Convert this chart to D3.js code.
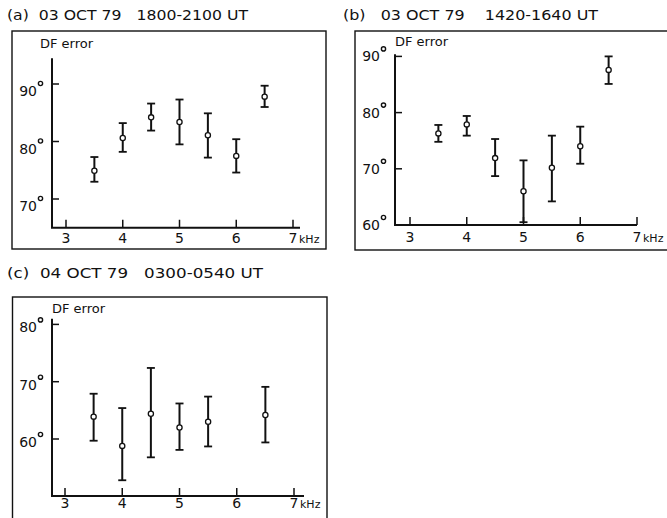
<!DOCTYPE html>
<html>
<head>
<meta charset="utf-8">
<script src="https://cdn.jsdelivr.net/npm/d3@7"></script>
<style>
body { margin: 0; background: #fff; }
svg { display: block; font-family: "DejaVu Sans", sans-serif; }
</style>
</head>
<body>
<div id="field"></div>
<script>
var width = 667
var height = 518

// frequencies (kHz)
var freqA = [3.5, 4, 4.5, 5, 5.5, 6, 6.5]
var meanA = [74.9, 80.6, 84.2, 83.4, 81.1, 77.5, 87.8]
var lowA  = [73.0, 78.2, 81.9, 79.5, 77.2, 74.6, 86.0]
var highA = [77.3, 83.2, 86.6, 87.3, 84.9, 80.4, 89.7]

var freqB = [3.5, 4, 4.5, 5, 5.5, 6, 6.5]
var meanB = [76.3, 77.9, 71.9, 66.0, 70.2, 74.0, 87.6]
var lowB  = [74.8, 75.9, 68.7, 60.5, 64.2, 70.9, 85.1]
var highB = [77.8, 79.4, 75.3, 71.5, 75.9, 77.5, 90.0]

var freqC = [3.5, 4, 4.5, 5, 5.5, 6.5]
var meanC = [63.9, 58.8, 64.4, 62.0, 63.0, 64.2]
var lowC  = [59.7, 52.8, 56.8, 58.1, 58.7, 59.4]
var highC = [67.9, 65.4, 72.4, 66.2, 67.4, 69.1]

var xTicks = [3, 4, 5, 6, 7]
var yTicksA = [70, 80, 90]
var yTicksB = [60, 70, 80, 90]
var yTicksC = [60, 70, 80]

var titles = [
  "(a)  03 OCT 79   1800-2100 UT",
  "(b)   03 OCT 79    1420-1640 UT",
  "(c)  04 OCT 79   0300-0540 UT"
]

function pts(f, m, lo, hi){
  return f.map(function(d, i){ return {f: d, m: m[i], lo: lo[i], hi: hi[i]} })
}

var panels = [
  {title: titles[0], tx: 7, ty: 20, tw: 241,
   frame: [12, 31, 326, 249],
   x: d3.scaleLinear().domain([3, 7]).range([66, 293]),
   y: d3.scaleLinear().domain([70, 90]).range([199, 84]),
   yDom: [65, 94.5], xAxisEnd: 300, axisX: 52,
   yTicks: yTicksA, labDy: 12, lab: [40, 48], xlabY: 243,
   data: pts(freqA, meanA, lowA, highA)},
  {title: titles[1], tx: 343, ty: 20, tw: 255,
   frame: [355, 31, 669, 250],
   x: d3.scaleLinear().domain([3, 7]).range([410, 637]),
   y: d3.scaleLinear().domain([60, 80]).range([225, 112.6]),
   yDom: [60, 90.4], xAxisEnd: 637, axisX: 395,
   yTicks: yTicksB, labDy: 5, lab: [395, 46], xlabY: 242,
   data: pts(freqB, meanB, lowB, highB)},
  {title: titles[2], tx: 7, ty: 278, tw: 256,
   frame: [12.5, 297, 327, 522],
   x: d3.scaleLinear().domain([3, 7]).range([65, 294]),
   y: d3.scaleLinear().domain([60, 70]).range([439, 381.7]),
   yDom: [50.05, 81], xAxisEnd: 304, axisX: 52,
   yTicks: yTicksC, labDy: 8, lab: [52, 313], xlabY: 508,
   data: pts(freqC, meanC, lowC, highC)}
]

var svg = d3.select("div#field").append("svg")
  .attr("width", width)
  .attr("height", height)

panels.forEach(function(p){
  var g = svg.append("g")
  var fr = p.frame
  g.append("rect")
    .attr("x", fr[0]).attr("y", fr[1])
    .attr("width", fr[2] - fr[0]).attr("height", fr[3] - fr[1])
    .attr("fill", "none").attr("stroke", "#111").attr("stroke-width", 1.4)

  g.append("text")
    .attr("x", p.tx).attr("y", p.ty)
    .attr("font-size", 13.5)
    .attr("textLength", p.tw).attr("lengthAdjust", "spacingAndGlyphs")
    .attr("fill", "#111")
    .style("white-space", "pre")
    .text(p.title)

  var y0 = p.y(p.yDom[0])
  var y1 = p.y(p.yDom[1])
  // axes
  g.append("path")
    .attr("d", d3.line()([[p.axisX, y1], [p.axisX, y0], [p.xAxisEnd, y0]]))
    .attr("fill", "none").attr("stroke", "#111").attr("stroke-width", 2)

  // x ticks (pointing up)
  g.selectAll("line.xt").data(xTicks).enter().append("line")
    .attr("x1", p.x).attr("x2", p.x)
    .attr("y1", y0).attr("y2", y0 - 8)
    .attr("stroke", "#111").attr("stroke-width", 1.5)
  g.selectAll("text.xl").data(xTicks).enter().append("text")
    .attr("x", p.x).attr("y", p.xlabY)
    .attr("text-anchor", "middle")
    .attr("font-size", 14).attr("fill", "#111")
    .text(function(d){ return d })
  g.append("text")
    .attr("x", p.x(7) + 6).attr("y", p.xlabY)
    .attr("font-size", 11).attr("fill", "#111")
    .text("kHz")

  // y ticks
  g.selectAll("line.yt").data(p.yTicks).enter().append("line")
    .attr("x1", p.axisX).attr("x2", p.axisX + 7)
    .attr("y1", p.y).attr("y2", p.y)
    .attr("stroke", "#111").attr("stroke-width", 1.5)
  g.selectAll("text.yl").data(p.yTicks).enter().append("text")
    .attr("x", p.axisX - 15).attr("y", function(d){ return p.y(d) + p.labDy })
    .attr("text-anchor", "end")
    .attr("font-size", 14).attr("fill", "#111")
    .text(function(d){ return d })
  g.selectAll("circle.deg").data(p.yTicks).enter().append("circle")
    .attr("cx", p.axisX - 11.5).attr("cy", function(d){ return p.y(d) + p.labDy - 12.5 })
    .attr("r", 2.1)
    .attr("fill", "none").attr("stroke", "#111").attr("stroke-width", 1.4)

  g.append("text")
    .attr("x", p.lab[0]).attr("y", p.lab[1])
    .attr("font-size", 13).attr("fill", "#111")
    .text("DF error")

  // error bars
  var bars = g.selectAll("g.bar").data(p.data).enter().append("g")
  bars.append("line")
    .attr("x1", function(d){ return p.x(d.f) }).attr("x2", function(d){ return p.x(d.f) })
    .attr("y1", function(d){ return p.y(d.lo) }).attr("y2", function(d){ return p.y(d.hi) })
    .attr("stroke", "#111").attr("stroke-width", 2)
  ;["lo", "hi"].forEach(function(k){
    bars.append("line")
      .attr("x1", function(d){ return p.x(d.f) - 4 }).attr("x2", function(d){ return p.x(d.f) + 4 })
      .attr("y1", function(d){ return p.y(d[k]) }).attr("y2", function(d){ return p.y(d[k]) })
      .attr("stroke", "#111").attr("stroke-width", 1.8)
  })
  bars.append("circle")
    .attr("cx", function(d){ return p.x(d.f) })
    .attr("cy", function(d){ return p.y(d.m) })
    .attr("r", 2.6)
    .attr("fill", "#fff").attr("stroke", "#111").attr("stroke-width", 1.3)
})
</script>
</body>
</html>
